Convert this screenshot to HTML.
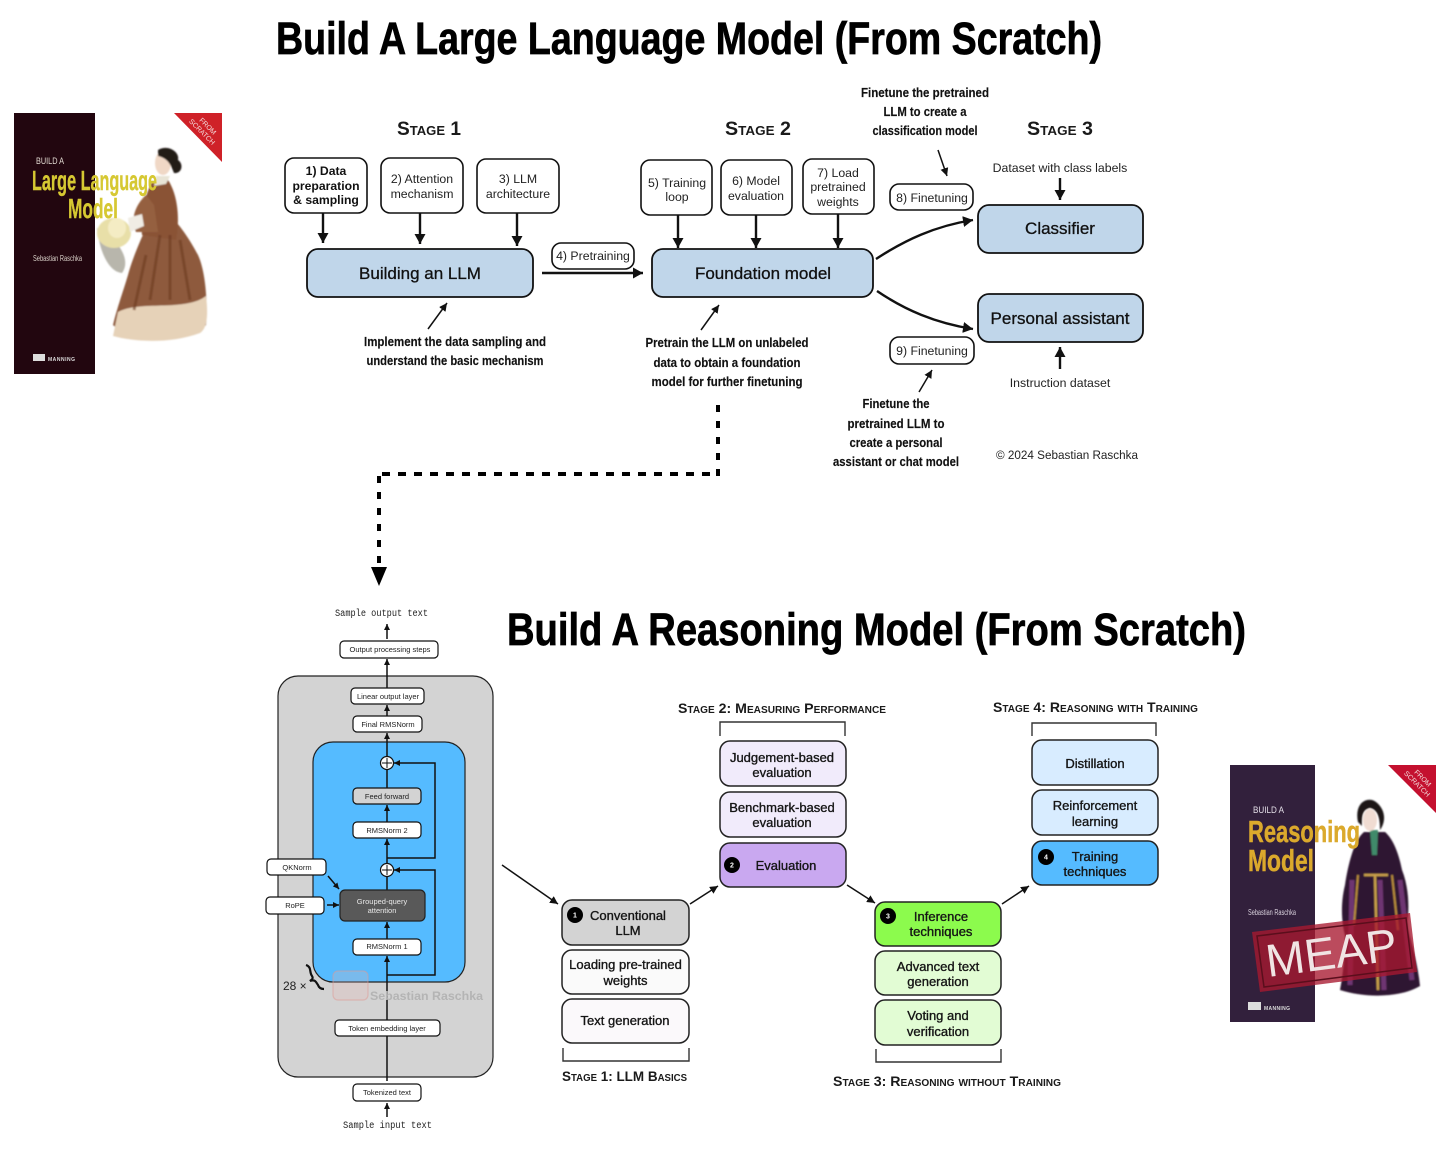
<!DOCTYPE html>
<html><head><meta charset="utf-8"><style>
html,body{margin:0;padding:0;background:#fff}
svg{display:block}
text{font-family:"Liberation Sans",sans-serif;fill:#111}
.t{font-weight:700;fill:#000;stroke:#000;stroke-width:.7}
.c{font-weight:700;font-size:13px;fill:#111;text-anchor:middle;stroke:#111;stroke-width:.15}
.s{font-weight:700;font-variant:small-caps;fill:#1a1a1a}
.b{font-size:12.3px;text-anchor:middle;fill:#222}
.bb{font-size:12.2px;text-anchor:middle;font-weight:700;fill:#111}
.m{font-size:17px;text-anchor:middle;fill:#111;stroke:#111;stroke-width:.3}
.n{font-size:13px;text-anchor:middle;fill:#151515;stroke:#151515;stroke-width:.35}
.x{font-size:7.5px;text-anchor:middle;fill:#222}
.mono{font-family:"Liberation Mono",monospace;font-size:10px;text-anchor:middle;fill:#222}
.box{fill:#fff;stroke:#111;stroke-width:1.6}
.mbox{fill:#c0d6ea;stroke:#111;stroke-width:1.8}
.sb{stroke:#222;stroke-width:1.5}
.l{fill:none;stroke:#111;stroke-width:2.4}
.l1{fill:none;stroke:#111;stroke-width:1.5}
.br{fill:none;stroke:#333;stroke-width:1.4}
.num{font-size:7px;font-weight:700;fill:#fff;text-anchor:middle}
</style></head><body>
<svg width="1456" height="1151" viewBox="0 0 1456 1151" xmlns="http://www.w3.org/2000/svg">
<defs>
<marker id="h" markerUnits="userSpaceOnUse" markerWidth="12" markerHeight="12" refX="10" refY="5.5" orient="auto"><path d="M0 0L10 5.5L0 11Z" fill="#111"/></marker>
<marker id="h2" markerUnits="userSpaceOnUse" markerWidth="10" markerHeight="10" refX="8" refY="4" orient="auto"><path d="M0 0L8 4L0 8Z" fill="#111"/></marker>
<marker id="h3" markerUnits="userSpaceOnUse" markerWidth="7" markerHeight="7" refX="6" refY="3" orient="auto"><path d="M0 0L6 3L0 6Z" fill="#111"/></marker>
<filter id="bl"><feGaussianBlur stdDeviation=".7"/></filter>
</defs>

<!-- titles -->
<text class="t" x="276" y="54" font-size="45" textLength="826" lengthAdjust="spacingAndGlyphs">Build A Large Language Model (From Scratch)</text>
<text class="t" x="507" y="645" font-size="45" textLength="739" lengthAdjust="spacingAndGlyphs">Build A Reasoning Model (From Scratch)</text>

<!-- left cover -->
<g>
<rect x="14" y="113" width="81" height="261" fill="#22060f"/>
<path d="M174 113H222V162Z" fill="#cf2128"/>
<g transform="translate(204 130) rotate(45)"><text x="0" y="-3" font-size="7" style="fill:#f3dcdc" text-anchor="middle">FROM</text><text x="0" y="5" font-size="7" style="fill:#f3dcdc" text-anchor="middle">SCRATCH</text></g>
<g filter="url(#bl)">
<path d="M150 220C140 240 132 260 128 275C122 295 118 305 113 325C130 342 190 342 206 325C208 300 205 270 198 255C190 240 180 225 172 218Z" fill="#8e5a3c"/>
<path d="M152 182C145 195 140 215 142 235L176 240C180 220 178 195 168 180Z" fill="#8a5236"/>
<path d="M146 195C135 205 130 220 136 232L158 232L154 205Z" fill="#95603f"/>
<path d="M118 312C140 300 185 312 206 296C208 312 208 328 200 333C170 344 135 342 113 336Z" fill="#e6d2b8"/>
<path d="M160 235L150 300M180 240L190 300M170 235L170 300M146 255L134 310" stroke="#6a3a22" stroke-width="3" fill="none" opacity=".6"/>
<ellipse cx="163" cy="163" rx="8" ry="12" fill="#f0d8c6"/>
<path d="M158 150C168 144 180 152 178 160C184 164 182 174 174 173C170 162 166 158 158 156Z" fill="#241a18"/>
<path d="M156 176L170 176L166 184L154 186Z" fill="#e8e4d6"/>
<path d="M97 228C100 255 110 272 122 273C130 262 122 248 112 238Z" fill="#b8b6ac"/>
<ellipse cx="114" cy="233" rx="17" ry="15" fill="#e8dfa8"/>
<ellipse cx="117" cy="228" rx="9" ry="10" fill="#f4ecc4"/>
<path d="M128 218L142 214L144 226L130 232Z" fill="#f0ece4"/>
</g>
<text x="36" y="164" font-size="9" style="fill:#e0d8d0" textLength="28" lengthAdjust="spacingAndGlyphs">BUILD A</text>
<text x="32" y="190" font-size="28" font-weight="700" style="fill:#d6c832;stroke:#d6c832;stroke-width:.4" textLength="125" lengthAdjust="spacingAndGlyphs">Large Language</text>
<text x="68" y="218" font-size="28" font-weight="700" style="fill:#d6c832;stroke:#d6c832;stroke-width:.4" textLength="50" lengthAdjust="spacingAndGlyphs">Model</text>
<text x="33" y="261" font-size="8" style="fill:#d8d0c8" textLength="49" lengthAdjust="spacingAndGlyphs">Sebastian Raschka</text>
<rect x="33" y="354" width="12" height="7" fill="#ddd"/>
<text x="48" y="361" font-size="5" font-weight="700" style="fill:#ddd" textLength="27">MANNING</text>
</g>

<!-- Stage headers -->
<text class="s" x="397" y="135" font-size="19" textLength="64" lengthAdjust="spacingAndGlyphs">Stage 1</text>
<text class="s" x="725" y="135" font-size="19" textLength="66" lengthAdjust="spacingAndGlyphs">Stage 2</text>
<text class="s" x="1027" y="135" font-size="19" textLength="66" lengthAdjust="spacingAndGlyphs">Stage 3</text>

<!-- top boxes -->
<rect class="box" x="285" y="158" width="82" height="55" rx="9"/>
<text class="bb" x="326" y="175">1) Data</text><text class="bb" x="326" y="190">preparation</text><text class="bb" x="326" y="204">&amp; sampling</text>
<rect class="box" x="381" y="158" width="82" height="55" rx="9"/>
<text class="b" x="422" y="183">2) Attention</text><text class="b" x="422" y="198">mechanism</text>
<rect class="box" x="477" y="159" width="82" height="54" rx="9"/>
<text class="b" x="518" y="183">3) LLM</text><text class="b" x="518" y="198">architecture</text>
<path class="l" d="M323 213V243" marker-end="url(#h)"/>
<path class="l" d="M420 213V244" marker-end="url(#h)"/>
<path class="l" d="M517 213V246" marker-end="url(#h)"/>
<rect class="mbox" x="307" y="249" width="226" height="48" rx="11"/>
<text class="m" x="420" y="279">Building an LLM</text>
<rect class="box" x="552" y="243" width="82" height="26" rx="9"/>
<text class="b" x="593" y="260">4) Pretraining</text>
<path class="l" d="M542 273H643" marker-end="url(#h)"/>
<path class="l1" d="M428 329L447 303" marker-end="url(#h2)"/>
<text class="c" x="455" y="346" textLength="182" lengthAdjust="spacingAndGlyphs">Implement the data sampling and</text>
<text class="c" x="455" y="365" textLength="177" lengthAdjust="spacingAndGlyphs">understand the basic mechanism</text>

<rect class="box" x="641" y="160" width="71" height="55" rx="9"/>
<text class="b" x="677" y="187">5) Training</text><text class="b" x="677" y="201">loop</text>
<rect class="box" x="721" y="160" width="71" height="55" rx="9"/>
<text class="b" x="756" y="185">6) Model</text><text class="b" x="756" y="200">evaluation</text>
<rect class="box" x="803" y="159" width="71" height="55" rx="9"/>
<text class="b" x="838" y="177">7) Load</text><text class="b" x="838" y="191">pretrained</text><text class="b" x="838" y="206">weights</text>
<path class="l" d="M678 215V248" marker-end="url(#h)"/>
<path class="l" d="M756 215V248" marker-end="url(#h)"/>
<path class="l" d="M838 214V248" marker-end="url(#h)"/>
<rect class="mbox" x="652" y="249" width="221" height="48" rx="11"/>
<text class="m" x="763" y="279">Foundation model</text>
<path class="l1" d="M701 330L719 305" marker-end="url(#h2)"/>
<text class="c" x="727" y="347" textLength="163" lengthAdjust="spacingAndGlyphs">Pretrain the LLM on unlabeled</text>
<text class="c" x="727" y="367" textLength="147" lengthAdjust="spacingAndGlyphs">data to obtain a foundation</text>
<text class="c" x="727" y="386" textLength="151" lengthAdjust="spacingAndGlyphs">model for further finetuning</text>

<text class="c" x="925" y="97" textLength="128" lengthAdjust="spacingAndGlyphs">Finetune the pretrained</text>
<text class="c" x="925" y="116" textLength="83" lengthAdjust="spacingAndGlyphs">LLM to create a</text>
<text class="c" x="925" y="135" textLength="105" lengthAdjust="spacingAndGlyphs">classification model</text>
<path class="l1" d="M938 150L947 176" marker-end="url(#h2)"/>
<rect class="box" x="890" y="184" width="83" height="26" rx="9"/>
<text class="b" x="932" y="202">8) Finetuning</text>
<rect class="box" x="890" y="337" width="84" height="27" rx="9"/>
<text class="b" x="932" y="355">9) Finetuning</text>
<path class="l" d="M876 259C905 240 935 226 973 220" marker-end="url(#h)"/>
<path class="l" d="M877 291C905 310 935 323 973 329" marker-end="url(#h)"/>
<rect class="mbox" x="978" y="205" width="165" height="48" rx="11"/>
<text class="m" x="1060" y="234">Classifier</text>
<rect class="mbox" x="978" y="294" width="165" height="48" rx="11"/>
<text class="m" x="1060" y="324">Personal assistant</text>
<text class="b" x="1060" y="172">Dataset with class labels</text>
<path class="l" d="M1060 178V200" marker-end="url(#h)"/>
<path class="l" d="M1060 369V347" marker-end="url(#h)"/>
<text class="b" x="1060" y="387">Instruction dataset</text>
<path class="l1" d="M919 392L932 370" marker-end="url(#h2)"/>
<text class="c" x="896" y="408" textLength="67" lengthAdjust="spacingAndGlyphs">Finetune the</text>
<text class="c" x="896" y="428" textLength="97" lengthAdjust="spacingAndGlyphs">pretrained LLM to</text>
<text class="c" x="896" y="447" textLength="93" lengthAdjust="spacingAndGlyphs">create a personal</text>
<text class="c" x="896" y="466" textLength="126" lengthAdjust="spacingAndGlyphs">assistant or chat model</text>
<text class="b" x="1067" y="459" textLength="142" lengthAdjust="spacingAndGlyphs">© 2024 Sebastian Raschka</text>

<!-- dashed connector -->
<path d="M718 405V476" fill="none" stroke="#000" stroke-width="4" stroke-dasharray="7 9"/>
<path d="M710 474H377" fill="none" stroke="#000" stroke-width="4" stroke-dasharray="8 8"/>
<path d="M379 476V568" fill="none" stroke="#000" stroke-width="4" stroke-dasharray="7 9"/>
<path d="M371 567H387L379 586Z" fill="#000"/>

<!-- architecture -->
<text class="mono" x="381.500" y="616" textLength="93" lengthAdjust="spacingAndGlyphs">Sample output text</text>
<path class="l1" d="M387 639V624" marker-end="url(#h3)"/>
<rect class="box" style="stroke-width:1.2" x="340" y="641" width="98" height="17" rx="4"/>
<text class="x" x="390" y="652">Output processing steps</text>
<rect x="278" y="676" width="215" height="401" rx="20" fill="#d3d3d3" stroke="#222" stroke-width="1.2"/>
<path class="l1" d="M387 688V659" marker-end="url(#h3)"/>
<rect class="box" style="stroke-width:1.2" x="351" y="688" width="73" height="16" rx="4"/>
<text class="x" x="388" y="699">Linear output layer</text>
<path class="l1" d="M387 716V705" marker-end="url(#h3)"/>
<rect class="box" style="stroke-width:1.2" x="353" y="716" width="69" height="16" rx="4"/>
<text class="x" x="388" y="727">Final RMSNorm</text>
<rect x="313" y="742" width="152" height="240" rx="20" fill="#55bbff" stroke="#222" stroke-width="1.2"/>
<path class="l1" d="M387 756V733" marker-end="url(#h3)"/>
<path class="l1" d="M387 788V770"/>
<path class="l1" d="M387 822V805" marker-end="url(#h3)"/>
<path class="l1" d="M387 864V839" marker-end="url(#h3)"/>
<path class="l1" d="M387 890V877"/>
<path class="l1" d="M387 939V922" marker-end="url(#h3)"/>
<path class="l1" d="M387 1081V956" marker-end="url(#h3)"/>
<path class="l1" d="M387 858H435V763H394" marker-end="url(#h3)"/>
<path class="l1" d="M387 975H435V870H394" marker-end="url(#h3)"/>
<circle cx="387" cy="763" r="6.500" fill="#fff" stroke="#111" stroke-width="1.2"/><path d="M382 763H392M387 758V768" stroke="#111" stroke-width="1"/>
<circle cx="387" cy="870" r="6.500" fill="#fff" stroke="#111" stroke-width="1.2"/><path d="M382 870H392M387 865V875" stroke="#111" stroke-width="1"/>
<rect x="353" y="788" width="68" height="16" rx="4" fill="#d3d3d3" stroke="#111" stroke-width="1.2"/>
<text class="x" x="387" y="799">Feed forward</text>
<rect class="box" style="stroke-width:1.2" x="353" y="822" width="68" height="16" rx="4"/>
<text class="x" x="387" y="833">RMSNorm 2</text>
<rect x="340" y="890" width="85" height="31" rx="5" fill="#595959" stroke="#222" stroke-width="1.2"/>
<text class="x" x="382" y="904" style="fill:#e8e8e8">Grouped-query</text>
<text class="x" x="382" y="913" style="fill:#e8e8e8">attention</text>
<rect class="box" style="stroke-width:1.2" x="353" y="939" width="68" height="16" rx="4"/>
<text class="x" x="387" y="949">RMSNorm 1</text>
<rect x="333" y="971" width="35" height="29" rx="5" fill="#e6b8b4" fill-opacity=".25" stroke="#e09a94" stroke-width="1.2" stroke-opacity=".5"/>
<text x="370" y="1000" font-size="12" font-weight="700" style="fill:#b4b4b4" textLength="113" lengthAdjust="spacingAndGlyphs">Sebastian Raschka</text>
<rect class="box" style="stroke-width:1.200;fill:#fff" x="335" y="1020" width="105" height="16" rx="4"/>
<text class="x" x="387" y="1031">Token embedding layer</text>
<rect class="box" style="stroke-width:1.2" x="353" y="1084" width="68" height="17" rx="4"/>
<text class="x" x="387" y="1095">Tokenized text</text>
<path class="l1" d="M387 1117V1103" marker-end="url(#h3)"/>
<text class="mono" x="387.500" y="1128" textLength="89" lengthAdjust="spacingAndGlyphs">Sample input text</text>
<rect class="box" style="stroke-width:1.2" x="267" y="859" width="59" height="16" rx="4"/>
<text class="x" x="297" y="870">QKNorm</text>
<rect class="box" style="stroke-width:1.2" x="266" y="897" width="58" height="17" rx="4"/>
<text class="x" x="295" y="908">RoPE</text>
<path class="l1" d="M328 876L339 889" marker-end="url(#h3)"/>
<path class="l1" d="M327 905H339" marker-end="url(#h3)"/>
<text x="283" y="990" font-size="12" style="fill:#222">28 ×</text>
<path d="M306 965C312 967 309 972 312 976C314 979 311 980 310 981C315 979 316 982 318 985C319 988 321 989 324 989" fill="none" stroke="#111" stroke-width="2.2"/>

<!-- reasoning stages -->
<text class="s" x="678" y="713" font-size="14" textLength="208" lengthAdjust="spacingAndGlyphs">Stage 2: Measuring Performance</text>
<path class="br" d="M720 736V722H845V736"/>
<rect class="sb" x="720" y="741" width="126" height="45" rx="10" fill="#f1ebfb"/>
<text class="n" x="782" y="762">Judgement-based</text><text class="n" x="782" y="777">evaluation</text>
<rect class="sb" x="720" y="792" width="126" height="45" rx="10" fill="#f1ebfb"/>
<text class="n" x="782" y="812">Benchmark-based</text><text class="n" x="782" y="827">evaluation</text>
<rect class="sb" x="720" y="843" width="126" height="44" rx="10" fill="#c9a8f0"/>
<circle cx="732" cy="865" r="8" fill="#000"/><text class="num" x="732" y="867.500">2</text>
<text class="n" x="786" y="870">Evaluation</text>

<rect class="sb" x="562" y="900" width="127" height="45" rx="10" fill="#d3d3d3"/>
<circle cx="575" cy="915" r="8" fill="#000"/><text class="num" x="575" y="917.500">1</text>
<text class="n" x="628" y="920">Conventional</text><text class="n" x="628" y="935">LLM</text>
<rect class="sb" x="562" y="950" width="127" height="44" rx="10" fill="#fafafa"/>
<text class="n" x="625.500" y="969">Loading pre-trained</text><text class="n" x="625.500" y="985">weights</text>
<rect class="sb" x="562" y="999" width="127" height="44" rx="10" fill="#fbf9fb"/>
<text class="n" x="625" y="1025">Text generation</text>
<path class="br" d="M563 1048V1061H689V1048"/>
<text class="s" x="562" y="1081" font-size="14" textLength="125" lengthAdjust="spacingAndGlyphs">Stage 1: LLM Basics</text>

<rect class="sb" x="875" y="902" width="126" height="44" rx="10" fill="#8cfb4d"/>
<circle cx="888" cy="916" r="8" fill="#000"/><text class="num" x="888" y="918.500">3</text>
<text class="n" x="941" y="921">Inference</text><text class="n" x="941" y="936">techniques</text>
<rect class="sb" x="875" y="951" width="126" height="44" rx="10" fill="#e2fcd4"/>
<text class="n" x="938" y="971">Advanced text</text><text class="n" x="938" y="986">generation</text>
<rect class="sb" x="875" y="1000" width="126" height="45" rx="10" fill="#e2fcd4"/>
<text class="n" x="938" y="1020">Voting and</text><text class="n" x="938" y="1036">verification</text>
<path class="br" d="M876 1049V1062H1001V1049"/>
<text class="s" x="833" y="1086" font-size="14" textLength="228" lengthAdjust="spacingAndGlyphs">Stage 3: Reasoning without Training</text>

<text class="s" x="993" y="712" font-size="14" textLength="205" lengthAdjust="spacingAndGlyphs">Stage 4: Reasoning with Training</text>
<path class="br" d="M1032 736V723H1156V736"/>
<rect class="sb" x="1032" y="740" width="126" height="45" rx="10" fill="#d8ecff"/>
<text class="n" x="1095" y="768">Distillation</text>
<rect class="sb" x="1032" y="790" width="126" height="45" rx="10" fill="#d8ecff"/>
<text class="n" x="1095" y="810">Reinforcement</text><text class="n" x="1095" y="826">learning</text>
<rect class="sb" x="1032" y="841" width="126" height="44" rx="10" fill="#55bbff"/>
<circle cx="1046" cy="857" r="8" fill="#000"/><text class="num" x="1046" y="859.500">4</text>
<text class="n" x="1095" y="861">Training</text><text class="n" x="1095" y="876">techniques</text>

<path class="l1" d="M502 865L558 904" marker-end="url(#h2)"/>
<path class="l1" d="M690 904L718 886" marker-end="url(#h2)"/>
<path class="l1" d="M847 885L875 903" marker-end="url(#h2)"/>
<path class="l1" d="M1002 904L1029 886" marker-end="url(#h2)"/>

<!-- right cover -->
<g>
<rect x="1230" y="765" width="85" height="257" fill="#32203c"/>
<path d="M1388 765H1436V813Z" fill="#c4102f"/>
<g transform="translate(1419 782) rotate(45)"><text x="0" y="-3" font-size="7" style="fill:#f3dcdc" text-anchor="middle">FROM</text><text x="0" y="5" font-size="7" style="fill:#f3dcdc" text-anchor="middle">SCRATCH</text></g>
<g filter="url(#bl)">
<path d="M1364 832C1354 840 1348 865 1345 885C1340 905 1342 925 1345 935C1345 960 1342 980 1340 990C1365 998 1400 998 1420 986C1418 965 1412 945 1407 925C1410 905 1408 885 1402 870C1398 850 1392 838 1385 832Z" fill="#2e1630"/>
<path d="M1352 880L1350 985M1400 880L1412 980M1380 880L1384 990" stroke="#6e3672" stroke-width="5" fill="none"/>
<path d="M1358 875L1354 925M1392 875L1398 930" stroke="#b98d3a" stroke-width="2" fill="none"/>
<path d="M1364 875H1388" stroke="#c9a04a" stroke-width="2.500"/>
<path d="M1375 876L1378 990" stroke="#c9a04a" stroke-width="2.500"/>
<path d="M1370 830L1378 830L1377 855L1372 855Z" fill="#3f8a6a"/>
<ellipse cx="1370" cy="820" rx="7" ry="11" fill="#f0dcd2"/>
<path d="M1358 822C1354 802 1368 796 1376 802C1386 810 1386 822 1380 830C1380 818 1378 810 1370 808C1362 810 1362 816 1362 826Z" fill="#1c1418"/>
</g>
<text x="1253" y="813" font-size="9" style="fill:#e4dfe8" textLength="31" lengthAdjust="spacingAndGlyphs">BUILD A</text>
<text x="1248" y="842" font-size="31" font-weight="700" style="fill:#dba92c;stroke:#dba92c;stroke-width:.5" textLength="112" lengthAdjust="spacingAndGlyphs">Reasoning</text>
<text x="1248" y="871" font-size="31" font-weight="700" style="fill:#dba92c;stroke:#dba92c;stroke-width:.5" textLength="66" lengthAdjust="spacingAndGlyphs">Model</text>
<text x="1248" y="915" font-size="8" style="fill:#d8d0dc" textLength="48" lengthAdjust="spacingAndGlyphs">Sebastian Raschka</text>
<path d="M1252 932L1410 913L1417 972L1260 992Z" fill="#a8182f" opacity=".78"/>
<path d="M1257 936L1406 918L1412 968L1264 987Z" fill="none" stroke="#5a0e1c" stroke-width="1.500"/>
<text transform="translate(1268 977) rotate(-7.500)" font-size="46" style="fill:#f0e4e4" textLength="132" lengthAdjust="spacingAndGlyphs">MEAP</text>
<rect x="1248" y="1002" width="13" height="8" fill="#ddd"/>
<text x="1264" y="1010" font-size="5" font-weight="700" style="fill:#ddd" textLength="26">MANNING</text>
</g>
</svg>
</body></html>
